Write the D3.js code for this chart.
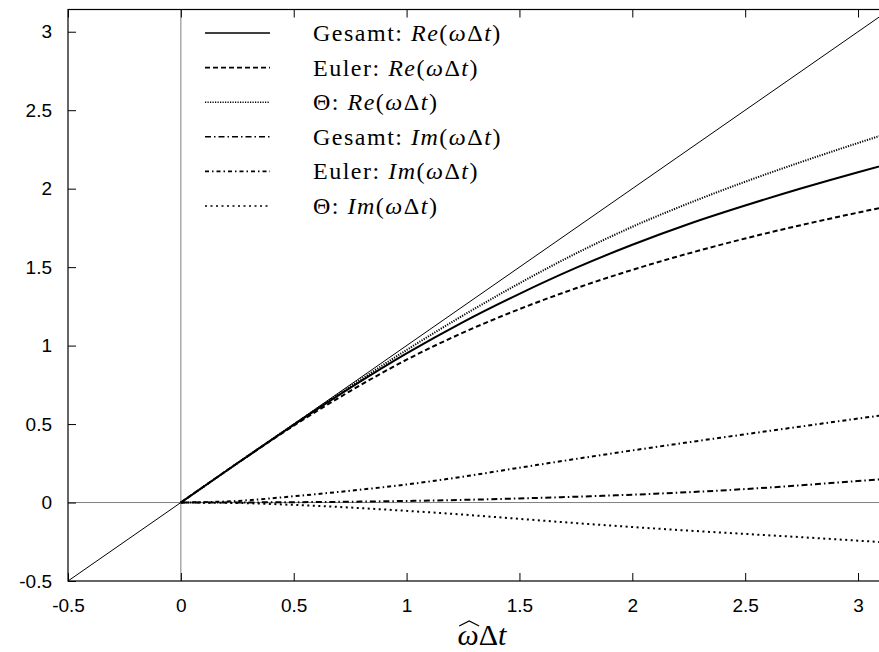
<!DOCTYPE html>
<html>
<head>
<meta charset="utf-8">
<script src="https://cdn.jsdelivr.net/npm/d3@7"></script>
<style>
  body { margin: 0; background: #fff; }
  .eje text { font-family: 'Liberation Sans', Arial, sans-serif; font-size: 19px; fill: #000; }
  .eje line { stroke: #000; }
  .leyenda { font-family: 'Liberation Serif', 'Times New Roman', serif; font-size: 24px; letter-spacing: 1.5px; }
</style>
</head>
<body>
<div id="graf"></div>
<script>
// valores (eje x: omega_hat * dt)
const xs          = [0, 0.25, 0.5, 0.75, 1.0, 1.25, 1.5, 1.75, 2.0, 2.25, 2.5, 2.75, 3.0, 3.1416]
const gesamtRe    = [0, 0.25, 0.495, 0.73, 0.95, 1.15, 1.33, 1.495, 1.6425, 1.775, 1.8925, 2.0025, 2.105, 2.16]
const eulerRe     = [0, 0.25, 0.49, 0.71, 0.91, 1.0825, 1.2325, 1.365, 1.4825, 1.5875, 1.6825, 1.7685, 1.8475, 1.89]
const thetaRe     = [0, 0.25, 0.498, 0.74, 0.972, 1.192, 1.397, 1.587, 1.757, 1.907, 2.044, 2.171, 2.291, 2.357]
const gesamtIm    = [0, 0.0005, 0.002, 0.005, 0.01, 0.017, 0.026, 0.037, 0.05, 0.066, 0.086, 0.11, 0.137, 0.152]
const eulerIm     = [0, 0.01, 0.04, 0.075, 0.115, 0.165, 0.222, 0.278, 0.332, 0.384, 0.435, 0.485, 0.535, 0.562]
const thetaIm     = [0, -0.003, -0.015, -0.032, -0.053, -0.077, -0.104, -0.131, -0.156, -0.179, -0.2, -0.221, -0.243, -0.256]
const identidad   = [[-0.5, -0.5], [3.1416, 3.1416]]
const ticksX      = [-0.5, 0, 0.5, 1, 1.5, 2, 2.5, 3]
const ticksY      = [-0.5, 0, 0.5, 1, 1.5, 2, 2.5, 3]
const nombres     = ['Gesamt: ', 'Euler: ', '\u0398: ', 'Gesamt: ', 'Euler: ', '\u0398: ']
const partes      = ['Re', 'Re', 'Re', 'Im', 'Im', 'Im']

const series = [
  { valores: gesamtRe, dash: null,      ancho: 2 },
  { valores: eulerRe,  dash: '5,3',     ancho: 2 },
  { valores: thetaRe,  dash: '1.2,1.3', ancho: 2 },
  { valores: gesamtIm, dash: '6,3,1.5,3', ancho: 2 },
  { valores: eulerIm,  dash: '4,3,1.5,3', ancho: 2 },
  { valores: thetaIm,  dash: '2,3.5',   ancho: 2 }
]

ancho_total = 879
alto_total = 652
margen = { superior: 9.5, izquierdo: 68, derecho: -11, inferior: 71 }
ancho = ancho_total - margen.izquierdo - margen.derecho
alto = alto_total - margen.superior - margen.inferior

svg = d3.select('#graf').append('svg')
        .attr('width', ancho_total)
        .attr('height', alto_total)

g = svg.append('g')
       .attr('transform', `translate(${ margen.izquierdo }, ${ margen.superior })`)

x = d3.scaleLinear().domain([-0.5, 3.1416]).range([0, ancho])
y = d3.scaleLinear().domain([-0.5, 3.1416]).range([alto, 0])

g.append('clipPath').attr('id', 'recorte')
 .append('rect').attr('width', ancho).attr('height', alto)

// ejes en cero (gris)
g.append('line')
 .attr('x1', x(0)).attr('x2', x(0)).attr('y1', 0).attr('y2', alto)
 .attr('stroke', '#808080').attr('stroke-width', 1)
g.append('line')
 .attr('x1', 0).attr('x2', ancho).attr('y1', y(0)).attr('y2', y(0))
 .attr('stroke', '#808080').attr('stroke-width', 1)

// ejes con ticks hacia adentro
formato = d => String(d)
xAxisGroup = g.append('g').attr('class', 'eje')
              .attr('transform', `translate(0, ${ alto })`)
              .call(d3.axisBottom(x).tickValues(ticksX).tickSize(-8).tickPadding(18).tickFormat(formato))
xTop = g.append('g').attr('class', 'eje')
        .call(d3.axisTop(x).tickValues(ticksX).tickSize(-8).tickFormat(''))
yAxisGroup = g.append('g').attr('class', 'eje')
              .call(d3.axisLeft(y).tickValues(ticksY).tickSize(-8).tickPadding(16).tickFormat(formato))
g.selectAll('.eje .domain').remove()
g.selectAll('.eje line').attr('stroke-width', 1)

// marco
g.append('rect')
 .attr('width', ancho).attr('height', alto)
 .attr('fill', 'none').attr('stroke', '#000').attr('stroke-width', 1.2)

linea = d3.line()
          .x((d, i) => x(xs[i]))
          .y(d => y(d))
          .curve(d3.curveMonotoneX)

trazos = g.append('g').attr('clip-path', 'url(#recorte)')

trazos.append('path')
      .datum(identidad)
      .attr('d', d3.line().x(d => x(d[0])).y(d => y(d[1])))
      .attr('fill', 'none').attr('stroke', '#000').attr('stroke-width', 1)

trazos.selectAll('path.serie')
      .data(series)
      .enter()
      .append('path')
      .attr('class', 'serie')
      .attr('d', d => linea(d.valores))
      .attr('fill', 'none')
      .attr('stroke', '#000')
      .attr('stroke-width', d => d.ancho)
      .attr('stroke-dasharray', d => d.dash)

// leyenda
leyenda = svg.append('g')
filas = leyenda.selectAll('g.fila')
               .data(series)
               .enter()
               .append('g')
               .attr('class', 'fila')
               .attr('transform', (d, i) => `translate(0, ${ 33 + i * 34.6 })`)
filas.append('line')
     .attr('x1', 205).attr('x2', 270).attr('y1', 0).attr('y2', 0)
     .attr('stroke', '#000').attr('stroke-width', 1.6)
     .attr('stroke-dasharray', d => d.dash)
etiquetas = filas.append('text')
                 .attr('class', 'leyenda')
                 .attr('x', 313).attr('y', 8)
etiquetas.append('tspan').text((d, i) => nombres[i])
etiquetas.append('tspan').attr('font-style', 'italic').text((d, i) => partes[i])
etiquetas.append('tspan').text('(')
etiquetas.append('tspan').attr('font-style', 'italic').text('\u03c9')
etiquetas.append('tspan').text('\u0394')
etiquetas.append('tspan').attr('font-style', 'italic').text('t')
etiquetas.append('tspan').text(')')

// titulo eje x
baseTitulo = 645
tituloX = svg.append('text')
             .attr('x', 482).attr('y', baseTitulo)
             .attr('text-anchor', 'middle')
             .style('font-family', "'Liberation Serif', serif")
             .style('font-size', '30px')
tituloX.append('tspan').attr('font-style', 'italic').text('\u03c9')
tituloX.append('tspan').text('\u0394')
tituloX.append('tspan').attr('font-style', 'italic').text('t')

// sombrero sobre omega
caja = tituloX.node().getExtentOfChar(0)
cx = caja.x + caja.width / 2 + 1
svg.append('path')
   .attr('d', `M${ cx - 10 },${ baseTitulo - 19 } L${ cx },${ baseTitulo - 24 } L${ cx + 10 },${ baseTitulo - 19 }`)
   .attr('fill', 'none').attr('stroke', '#000').attr('stroke-width', 1.2)
</script>
</body>
</html>
